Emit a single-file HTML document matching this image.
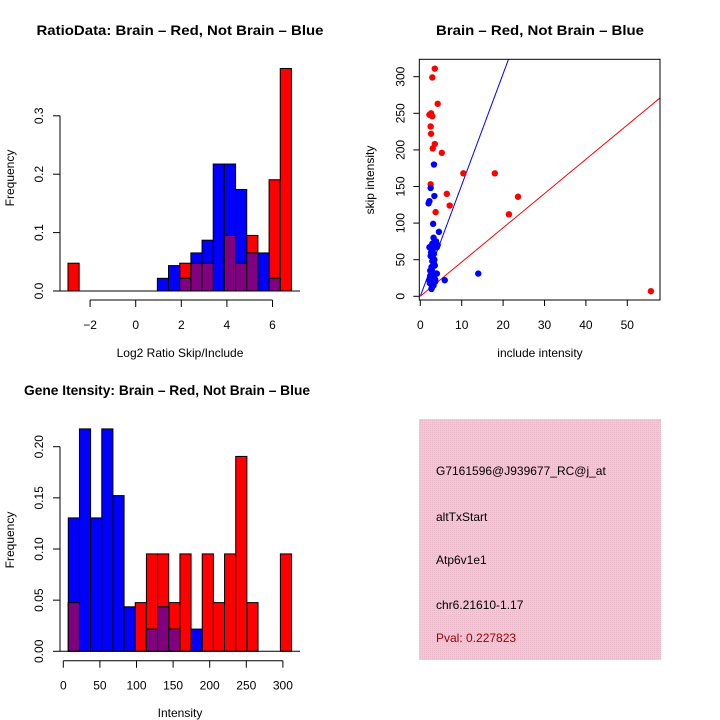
<!DOCTYPE html>
<html><head><meta charset="utf-8"><style>
html,body{margin:0;padding:0;background:#fff;}
svg{display:block;font-family:"Liberation Sans",Arial,sans-serif;}
</style></head><body>
<svg id="s" width="720" height="720" viewBox="0 0 720 720" xmlns="http://www.w3.org/2000/svg">
<defs>
<pattern id="pk" width="2" height="2" patternUnits="userSpaceOnUse"><rect width="2" height="2" fill="#f4c8d2"/><rect width="1" height="1" fill="#e8b8c8"/></pattern>
</defs>
<g id="p1"></g>
<g id="p2"></g>
<g id="p3"></g>
<g id="p4">
<rect x="419" y="419" width="242" height="241" fill="url(#pk)"/>
<text x="436" y="475" font-size="12">G7161596@J939677_RC@j_at</text>
<text x="436" y="521" font-size="12">altTxStart</text>
<text x="436" y="564" font-size="12">Atp6v1e1</text>
<text x="436" y="609" font-size="12">chr6.21610-1.17</text>
<text x="436" y="642" font-size="12" fill="#a00000">Pval: 0.227823</text>
</g>
</svg>
<script>
// Ratio histogram data
const ratioBinStart = -2.97, ratioBinWidth = 0.49;
const ratioRed  = [0.0476,0,0,0,0,0,0,0,0,0,0.0476,0.0476,0.0476,0,0.0952,0.0476,0.0952,0,0.1905,0.381];
const ratioBlue = [0,0,0,0,0,0,0,0,0.0217,0.0435,0.0217,0.0652,0.087,0.2174,0.2174,0.1739,0.0652,0.0652,0.0217,0];
const ratioXTicks = [-2,0,2,4,6];
const ratioYTicks = ["0.0","0.1","0.2","0.3"];
// Gene intensity histogram data
const intBinStart = 6.8, intBinWidth = 15.25;
const intRed  = [0.0476,0,0,0,0,0,0.0476,0.0952,0.0952,0.0476,0.0952,0,0.0952,0.0476,0.0952,0.1905,0.0476,0,0,0.0952];
const intBlue = [0.1304,0.2174,0.1304,0.2174,0.1522,0.0435,0,0.0217,0.0435,0.0217,0,0.0217,0,0,0,0,0,0,0,0];
const intXTicks = [0,50,100,150,200,250,300];
const intYTicks = ["0.00","0.05","0.10","0.15","0.20"];
// Scatter data
const redInclude = [3.5,2.9,4.2,2.2,2.6,2.9,2.5,2.6,3.5,3.0,5.2,2.5,10.4,18.0,6.4,7.1,3.7,21.4,23.6,55.7];
const redSkip    = [311,299,263,248,250,246,232,222,208,202,196,153,168,168,140,124,115,112,136,7];
const blueInclude= [3.3,2.5,3.4,2.2,2.0,3.1,4.5,3.2,3.8,2.2,3.5,4.0,2.8,3.0,2.5,3.3,3.5,2.8,2.4,3.2,4.0,2.4,2.2,3.0,3.6,5.9,14.0,2.7,3.2,2.3,2.6,3.1,2.9,3.4,2.7,3.0,2.5,3.6,2.9,3.3,4.2,2.8];
const blueSkip   = [180,148,137,130,127,99,88,80,75,67,70,67,62,55,55,45,42,38,35,30,31,28,22,25,20,22,31,10,15,18,60,65,72,50,40,33,26,23,48,58,70,12];
const blueSlope = 15.2, redSlope = 4.68;
const scXTicks = [0,10,20,30,40,50];
const scYTicks = [0,50,100,150,200,250,300];

const NS="http://www.w3.org/2000/svg";
function mk(parent,tag,attrs,txt){const e=document.createElementNS(NS,tag);for(const k in attrs)e.setAttribute(k,attrs[k]);if(txt!==undefined)e.textContent=txt;parent.appendChild(e);return e;}

function hist(g,o){
  const X=v=>o.x0+(v-o.xmin)*o.xs, Y=v=>o.y0-v*o.ys;
  const n=o.red.length;
  for(let i=0;i<n;i++){const a=o.start+i*o.w,b=a+o.w;
    if(o.red[i]>0){const r=mk(g,'rect',{x:X(a),y:Y(o.red[i]),width:X(b)-X(a),height:o.red[i]*o.ys,fill:'#ff0000',stroke:'#000','stroke-width':1});
      
      }}
  for(let i=0;i<n;i++){const a=o.start+i*o.w,b=a+o.w;
    if(o.blue[i]>0){const r=mk(g,'rect',{x:X(a),y:Y(o.blue[i]),width:X(b)-X(a),height:o.blue[i]*o.ys,fill:'#0000ff',stroke:'#000','stroke-width':1});
      
      }}
  for(let i=0;i<n;i++){const a=o.start+i*o.w,b=a+o.w,m=Math.min(o.red[i],o.blue[i]);
    if(m>0){const r=mk(g,'rect',{x:X(a),y:Y(m),width:X(b)-X(a),height:m*o.ys,fill:'#800080',stroke:'#000','stroke-width':1});
      
      }}
  mk(g,'line',{x1:o.ax0,x2:o.ax1,y1:o.y0,y2:o.y0,stroke:'#000'});
  // y axis
  const yv=o.yt.map(Number);
  mk(g,'line',{x1:o.ax0,x2:o.ax0,y1:Y(yv[0]),y2:Y(yv[yv.length-1]),stroke:'#000'});
  o.yt.forEach(t=>{const y=Y(Number(t));mk(g,'line',{x1:o.ax0-7,x2:o.ax0,y1:y,y2:y,stroke:'#000'});
    const tx=mk(g,'text',{x:o.ax0-17,y:y,'font-size':12,'text-anchor':'middle',transform:`rotate(-90 ${o.ax0-17} ${y})`},t);
    
    });
  // x axis
  const xa=o.xy;
  mk(g,'line',{x1:X(o.xt[0]),x2:X(o.xt[o.xt.length-1]),y1:xa,y2:xa,stroke:'#000'});
  o.xt.forEach(t=>{const x=X(t);mk(g,'line',{x1:x,x2:x,y1:xa,y2:xa+7,stroke:'#000'});
    const tx=mk(g,'text',{x:x,y:xa+29,'font-size':12,'text-anchor':'middle'},String(t).replace('-','\u2212'));
    
    });
  const tt=mk(g,'text',{x:o.tx,y:o.ty,'font-size':14,'font-weight':'bold','text-anchor':'middle',textLength:o.tl,lengthAdjust:'spacingAndGlyphs'},o.title);
  
  
  const xl=mk(g,'text',{x:180,y:o.xly,'font-size':12,'text-anchor':'middle'},o.xlab);
  
  
  const yl=mk(g,'text',{x:14,y:o.yly,'font-size':12,'text-anchor':'middle',transform:`rotate(-90 14 ${o.yly})`},'Frequency');
  
  
}
hist(document.getElementById('p1'),{red:ratioRed,blue:ratioBlue,start:ratioBinStart,w:ratioBinWidth,
  x0:135.7,xmin:0,xs:22.8,y0:291,ys:584,ax0:60,ax1:300,xy:300,xt:ratioXTicks,yt:ratioYTicks,
  title:'RatioData: Brain \u2013 Red, Not Brain \u2013 Blue',tx:180,ty:35,tl:287,xlab:'Log2 Ratio Skip/Include',xly:357,yly:178});
hist(document.getElementById('p3'),{red:intRed,blue:intBlue,start:intBinStart,w:intBinWidth,
  x0:63.3,xmin:0,xs:0.732,y0:651.3,ys:1023,ax0:60,ax1:300,xy:660.7,xt:intXTicks,yt:intYTicks,
  title:'Gene Itensity: Brain \u2013 Red, Not Brain \u2013 Blue',tx:167,ty:395,tl:286,xlab:'Intensity',xly:717,yly:540});

// scatter
(function(){
  const g=document.getElementById('p2');
  const X=v=>420.3+v*4.14, Y=v=>296.3-v*0.732;
  const L=419.3,R=660,T=59.3,B=300;
  mk(g,'clipPath',{id:'cp'}).appendChild(Object.assign(document.createElementNS(NS,'rect'),{}));
  const cr=g.lastChild.firstChild;cr.setAttribute('x',L);cr.setAttribute('y',T);cr.setAttribute('width',R-L);cr.setAttribute('height',B-T);
  const bl=mk(g,'line',{x1:X(0),y1:Y(0),x2:X(60),y2:Y(60*blueSlope),stroke:'#0000ff','clip-path':'url(#cp)'});
  
  
  const rl=mk(g,'line',{x1:X(0),y1:Y(0),x2:X(60),y2:Y(60*redSlope),stroke:'#ff0000','clip-path':'url(#cp)'});
  
  
  redInclude.forEach((v,i)=>{const c=mk(g,'circle',{cx:X(v),cy:Y(redSkip[i]),r:3.2,fill:'#ff0000'});
    
    });
  blueInclude.forEach((v,i)=>{const c=mk(g,'circle',{cx:X(v),cy:Y(blueSkip[i]),r:3.2,fill:'#0000ff'});
    
    });
  mk(g,'rect',{x:L,y:T,width:R-L,height:B-T,fill:'none',stroke:'#000'});
  scXTicks.forEach(t=>{const x=X(t);mk(g,'line',{x1:x,x2:x,y1:B,y2:B+6,stroke:'#000'});
    const tx=mk(g,'text',{x:x,y:B+29,'font-size':12,'text-anchor':'middle'},String(t));
    
    });
  scYTicks.forEach(t=>{const y=Y(t);mk(g,'line',{x1:L-6,x2:L,y1:y,y2:y,stroke:'#000'});
    const tx=mk(g,'text',{x:L-15,y:y,'font-size':12,'text-anchor':'middle',transform:`rotate(-90 ${L-15} ${y})`},String(t));
    
    });
  const tt=mk(g,'text',{x:540,y:35,'font-size':14,'font-weight':'bold','text-anchor':'middle',textLength:208,lengthAdjust:'spacingAndGlyphs'},'Brain \u2013 Red, Not Brain \u2013 Blue');
  
  
  const xl=mk(g,'text',{x:540,y:357,'font-size':12,'text-anchor':'middle'},'include intensity');
  
  
  const yl=mk(g,'text',{x:374,y:180,'font-size':12,'text-anchor':'middle',transform:'rotate(-90 374 180)'},'skip intensity');
  
  
})();
</script>
</body></html>
